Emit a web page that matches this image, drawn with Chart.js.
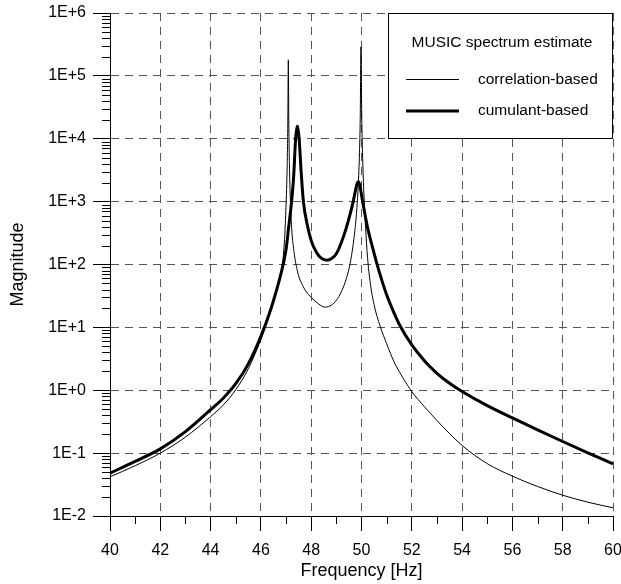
<!DOCTYPE html>
<html>
<head>
<meta charset="utf-8">
<script src="https://cdn.jsdelivr.net/npm/chart.js@4.4.1/dist/chart.umd.min.js"></script>
<style>
  html, body { margin: 0; padding: 0; background: #fff; }
  #wrap { width: 621px; height: 584px; }
</style>
</head>
<body>
<div id="wrap"><canvas id="c" width="621" height="584"></canvas></div>
<script>
// ---- data ----
const seriesNames = ['correlation-based', 'cumulant-based'];
const legendTitle = 'MUSIC spectrum estimate';
const xTitle = 'Frequency [Hz]';
const yTitle = 'Magnitude';

const xTickValues = [40, 42, 44, 46, 48, 50, 52, 54, 56, 58, 60];
const yTickValues = [1e-2, 1e-1, 1e0, 1e1, 1e2, 1e3, 1e4, 1e5, 1e6];
const yTickLabels = ['1E-2', '1E-1', '1E+0', '1E+1', '1E+2', '1E+3', '1E+4', '1E+5', '1E+6'];

// correlation-based (thin line)
const freqCorr = [40, 41, 42, 43, 44, 44.5, 45, 45.5, 46, 46.25, 46.5, 46.7, 46.78, 46.85, 46.94, 46.99, 47.04, 47.07, 47.09, 47.11, 47.14, 47.19, 47.24, 47.3, 47.36, 47.42, 47.5, 47.62, 47.8, 48, 48.3, 48.55, 48.8, 49, 49.2, 49.4, 49.55, 49.7, 49.8, 49.87, 49.92, 49.95, 49.98, 50.01, 50.04, 50.09, 50.16, 50.24, 50.35, 50.5, 50.74, 51, 51.3, 51.66, 52, 52.5, 53, 53.5, 54, 55, 56, 57, 58, 59, 60];
const magCorr = [0.042, 0.063, 0.1, 0.18, 0.38, 0.58, 1.02, 2.2, 6.45, 12.5, 26, 50, 68, 98, 250, 700, 3000, 17000, 180000, 17000, 3000, 700, 300, 180, 120, 90, 66, 50, 37, 30, 23.5, 21, 22.5, 27, 37, 60, 105, 260, 650, 1800, 6000, 22000, 290000, 22000, 6000, 1500, 400, 130, 50, 23, 10.5, 5.5, 2.8, 1.55, 0.95, 0.55, 0.33, 0.205, 0.132, 0.068, 0.043, 0.0295, 0.0214, 0.0166, 0.0135];

// cumulant-based (thick line)
const freqCum = [40, 41, 42, 43, 44, 44.5, 45, 45.5, 46, 46.4, 46.8, 47, 47.1, 47.22, 47.3, 47.38, 47.42, 47.45, 47.48, 47.52, 47.6, 47.69, 47.85, 48, 48.2, 48.4, 48.62, 48.8, 49, 49.28, 49.5, 49.67, 49.75, 49.82, 49.87, 49.92, 49.97, 50.05, 50.15, 50.25, 50.4, 50.6, 50.8, 51, 51.25, 51.5, 52, 52.5, 53, 53.5, 54, 55, 56, 57, 58, 59, 60];
const magCum = [0.048, 0.074, 0.117, 0.22, 0.49, 0.746, 1.27, 2.63, 7.2, 19.8, 72, 173, 380, 1000, 2400, 10000, 13800, 15800, 13800, 10000, 3000, 1000, 417, 240, 158, 126, 117, 123, 148, 275, 537, 1000, 1445, 1905, 2075, 1905, 1514, 977, 589, 372, 214, 107, 57.5, 33, 18.6, 11.2, 5.25, 2.95, 1.86, 1.29, 0.955, 0.569, 0.363, 0.234, 0.153, 0.101, 0.0676];

// ---- chart ----
const FONT = '"Liberation Sans", Arial, sans-serif';
const toPts = (xs, ys) => xs.map((x, i) => ({ x: x, y: ys[i] }));
const noPad = s => { s.paddingLeft = 0; s.paddingRight = 0; s.paddingTop = 0; s.paddingBottom = 0; };

const extras = {
  id: 'extras',
  afterDraw(chart) {
    const ctx = chart.ctx, xs = chart.scales.x, ys = chart.scales.y, ca = chart.chartArea;
    ctx.save();
    ctx.strokeStyle = '#000';
    ctx.lineWidth = 1;
    ctx.beginPath();
    // y minor ticks (2..9 within each decade)
    for (let d = 0; d < yTickValues.length - 1; d++) {
      for (let m = 2; m <= 9; m++) {
        const py = Math.round(ys.getPixelForValue(yTickValues[d] * m)) + 0.5;
        ctx.moveTo(ca.left - 8, py);
        ctx.lineTo(ca.left, py);
      }
    }
    // x minor ticks (odd values)
    for (let i = 0; i < xTickValues.length - 1; i++) {
      const v = (xTickValues[i] + xTickValues[i + 1]) / 2;
      const px = Math.round(xs.getPixelForValue(v)) + 0.5;
      ctx.moveTo(px, ca.bottom);
      ctx.lineTo(px, ca.bottom + 8);
    }
    ctx.stroke();

    // legend box
    const bw = 225, bh = 125;
    const bx = Math.round(ca.right) - bw, by = Math.round(ca.top);
    ctx.fillStyle = '#fff';
    ctx.fillRect(bx, by, bw, bh);
    ctx.strokeStyle = '#000';
    ctx.strokeRect(bx + 0.5, by + 0.5, bw - 1, bh);
    ctx.fillStyle = '#000';
    ctx.font = '15.5px ' + FONT;
    ctx.textBaseline = 'middle';
    ctx.textAlign = 'center';
    ctx.fillText(legendTitle, bx + 114, by + 30);
    ctx.textAlign = 'left';
    const ds = chart.data.datasets;
    const rows = [by + 67, by + 98];
    for (let i = 0; i < 2; i++) {
      ctx.beginPath();
      ctx.lineWidth = ds[i].borderWidth;
      ctx.strokeStyle = ds[i].borderColor;
      ctx.moveTo(bx + 18, rows[i] + (i === 0 ? -0.5 : 0));
      ctx.lineTo(bx + 71, rows[i] + (i === 0 ? -0.5 : 0));
      ctx.stroke();
      ctx.fillText(seriesNames[i], bx + 90, rows[i]);
    }
    ctx.restore();
  }
};

new Chart(document.getElementById('c'), {
  type: 'line',
  data: {
    datasets: [
      { label: seriesNames[0], data: toPts(freqCorr, magCorr), borderColor: '#000', borderWidth: 1, pointRadius: 0, cubicInterpolationMode: 'monotone', fill: false },
      { label: seriesNames[1], data: toPts(freqCum, magCum), borderColor: '#000', borderWidth: 3, pointRadius: 0, cubicInterpolationMode: 'monotone', fill: false }
    ]
  },
  options: {
    responsive: false,
    animation: false,
    events: [],
    layout: { padding: { top: 13, right: 8, left: 0, bottom: 0 } },
    plugins: { legend: { display: false }, tooltip: { enabled: false } },
    scales: {
      x: {
        type: 'linear', min: 40, max: 60,
        afterBuildTicks: s => { s.ticks = xTickValues.map(v => ({ value: v })); },
        afterFit: s => { s.height = 68; noPad(s); },
        ticks: { color: '#000', font: { family: FONT, size: 16 }, padding: 10, maxRotation: 0, autoSkip: false },
        grid: { color: '#555', lineWidth: 1, tickLength: 15, tickColor: '#000', drawTicks: true },
        border: { display: true, color: '#000', width: 1, dash: [8, 6] },
        title: { display: true, text: xTitle, color: '#000', font: { family: FONT, size: 18 }, padding: { top: 0, bottom: 2 } }
      },
      y: {
        type: 'logarithmic', min: 1e-2, max: 1e6,
        afterBuildTicks: s => { s.ticks = yTickValues.map(v => ({ value: v })); },
        afterFit: s => { s.width = 110; noPad(s); },
        ticks: { color: '#000', font: { family: FONT, size: 16 }, padding: 7, autoSkip: false,
          callback: (v) => { const i = yTickValues.findIndex(t => Math.abs(Math.log10(t) - Math.log10(v)) < 1e-6); return i >= 0 ? yTickLabels[i] : ''; } },
        grid: { color: '#555', lineWidth: 1, tickLength: 17, tickColor: '#000', drawTicks: true },
        border: { display: true, color: '#000', width: 1, dash: [8, 6] },
        title: { display: true, text: yTitle, color: '#000', font: { family: FONT, size: 18 }, padding: { top: 7, bottom: 0 } }
      }
    }
  },
  plugins: [extras]
});
</script>
</body>
</html>
